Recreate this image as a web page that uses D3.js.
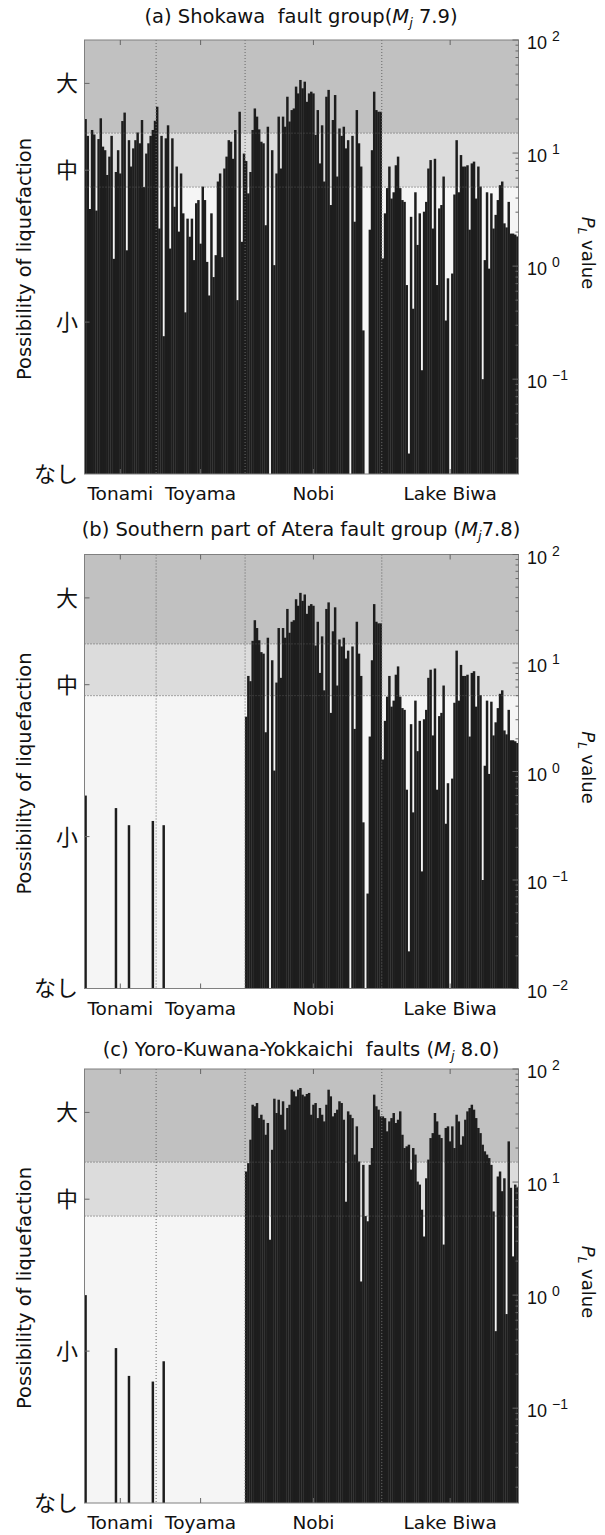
<!DOCTYPE html>
<html><head><meta charset="utf-8">
<script src="https://cdn.jsdelivr.net/npm/d3@7"></script>
<style>body{margin:0;background:#fff}svg{display:block}text{white-space:pre}</style>
</head><body>
<svg id="chart" width="605" height="1535"></svg>
<script>
// ---------- categories / labels ----------
const regions = ["Tonami", "Toyama", "Nobi", "Lake Biwa"];
const levelLabels = ["大", "中", "小", "なし"];
const levelPos = [0.90, 0.70, 0.35, 0];      // position of class labels on the left axis (fraction of height)
const classEdges = [5, 15];                   // PL thresholds between 小/中 and 中/大

// ---------- (a) Shokawa fault group ----------
const shokawaTonami = [20, 14.2, 3.2, 16.0, 14.6, 3.1, 13.3, 20.3, 11.4, 10.6, 6.4, 9.3, 14.2, 1.16, 6.8, 10.6, 6.6, 19.2, 22.8, 1.38, 13.0, 7.6, 11.0, 13.0, 15.2, 12.2, 19.6, 5.0, 9.9, 12.2, 14.2, 16.0, 19.3];
const shokawaToyama = [25.7, 2.15, 14.2, 0.24, 13.5, 17.6, 1.43, 13.5, 3.35, 7.6, 2.02, 6.6, 2.93, 0.39, 2.63, 1.82, 2.63, 1.13, 3.6, 3.84, 1.58, 5.05, 3.84, 1.09, 0.55, 2.93, 0.8, 1.25, 5.6, 6.6, 1.2, 7.3, 9.3, 13.0, 12.6, 8.9, 16.0, 0.5, 23.2, 1.64, 9.9];
const shokawaNobi = [8.5, 4.4, 6.8, 16.0, 24.8, 21.0, 16.2, 12.6, 12.2, 2.3, 17.1, 0, 10.6, 1.02, 6.6, 21.0, 7.3, 21.0, 17.1, 31.5, 19.0, 24.0, 24.8, 38.7, 33.7, 44.3, 37.4, 42.8, 28.4, 33.7, 34.9, 33.7, 14.5, 24.0, 8.1, 17.6, 5.6, 31.5, 36.2, 3.47, 19.6, 32.6, 6.2, 16.5, 14.2, 17.1, 11.0, 13.0, 0, 14.2, 2.47, 24.0, 12.2, 7.6, 0.27, 0, 0, 2.1, 10.6, 34.9, 24.0, 23.2, 23.2];
const shokawaBiwa = [1.17, 2.93, 4.9, 7.6, 3.96, 4.5, 7.8, 9.3, 4.9, 3.84, 3.7, 0.68, 0.022, 2.73, 0.42, 4.5, 1.54, 2.93, 0.12, 3.03, 3.7, 7.3, 8.67, 2.15, 8.9, 0.68, 3.24, 3.47, 6.2, 0.33, 0.78, 0, 0.86, 4.3, 13.0, 4.5, 9.6, 7.6, 7.6, 7.8, 2.1, 8.1, 8.4, 3.96, 7.6, 5.05, 0.10, 1.13, 4.5, 0.95, 4.4, 2.15, 2.84, 3.84, 5.2, 5.6, 2.39, 2.2, 3.7, 1.94, 1.94, 1.9, 1.83];

// ---------- (b) Southern part of Atera fault group ----------
const ateraTonami = [0.6, 0, 0, 0, 0, 0, 0, 0, 0, 0, 0, 0, 0, 0, 0.46, 0, 0, 0, 0, 0, 0.32, 0, 0, 0, 0, 0, 0, 0, 0, 0, 0, 0.35, 0];
const ateraToyama = [0, 0, 0, 0.32, 0, 0, 0, 0, 0, 0, 0, 0, 0, 0, 0, 0, 0, 0, 0, 0, 0, 0, 0, 0, 0, 0, 0, 0, 0, 0, 0, 0, 0, 0, 0, 0, 0, 0, 0, 0, 0];
const ateraNobi = [3.2, 7.6, 6.8, 16.0, 24.8, 21.0, 16.2, 12.6, 12.2, 2.3, 17.1, 0, 10.6, 1.02, 6.6, 21.0, 7.3, 21.0, 17.1, 31.5, 19.0, 24.0, 24.8, 38.7, 33.7, 44.3, 37.4, 42.8, 28.4, 33.7, 34.9, 33.7, 14.5, 24.0, 8.1, 17.6, 5.6, 31.5, 36.2, 3.47, 19.6, 32.6, 6.2, 16.5, 14.2, 17.1, 11.0, 13.0, 0, 14.2, 2.47, 24.0, 12.2, 7.6, 0.34, 0, 0.075, 2.1, 10.6, 34.9, 24.0, 23.2, 23.2];
const ateraBiwa = [1.29, 2.93, 4.9, 7.6, 3.96, 4.5, 7.8, 9.3, 4.9, 3.84, 3.7, 0.68, 0.022, 2.73, 0.42, 4.5, 1.54, 2.93, 0.12, 3.03, 3.7, 7.3, 8.67, 2.15, 8.9, 0.68, 3.24, 3.47, 6.2, 0.33, 0.78, 0, 0.86, 4.3, 13.0, 4.5, 9.6, 7.6, 7.6, 7.8, 2.1, 8.1, 8.4, 3.96, 7.6, 5.05, 0.10, 1.13, 4.5, 0.95, 4.4, 2.15, 2.84, 3.84, 5.2, 5.6, 2.39, 2.2, 3.7, 1.94, 1.94, 1.9, 1.83];

// ---------- (c) Yoro-Kuwana-Yokkaichi faults ----------
const yoroTonami = [1.0, 0, 0, 0, 0, 0, 0, 0, 0, 0, 0, 0, 0, 0, 0.34, 0, 0, 0, 0, 0, 0.193, 0, 0, 0, 0, 0, 0, 0, 0, 0, 0, 0.172, 0];
const yoroToyama = [0, 0, 0, 0.26, 0, 0, 0, 0, 0, 0, 0, 0, 0, 0, 0, 0, 0, 0, 0, 0, 0, 0, 0, 0, 0, 0, 0, 0, 0, 0, 0, 0, 0, 0, 0, 0, 0, 0, 0, 0, 0];
const yoroNobi = [12.4, 14.7, 23.7, 48.3, 46.8, 50, 36.8, 39.4, 35.6, 26.2, 33.3, 3.09, 19.3, 54.6, 40.8, 53.5, 39.4, 51.8, 29.1, 45.2, 48.3, 65.6, 63.4, 57.3, 65.6, 67.9, 59.3, 57.3, 60.1, 61.4, 39.4, 48.3, 50, 36.8, 45.2, 39.4, 34.4, 48.3, 65.6, 57.3, 38.1, 40.8, 43.7, 51.8, 50, 35.6, 6.7, 42.2, 39.4, 36.8, 17.5, 31.1, 15.2, 1.32, 14.2, 5.0, 4.5, 14.2, 20.0, 59.3, 46.8, 43.7, 38.1];
const yoroBiwa = [38.1, 36.8, 28.1, 34.4, 36.8, 40.8, 33.3, 35.6, 42.2, 26.2, 20, 20.7, 21.4, 12.9, 20, 17.5, 10.1, 9.5, 5.7, 3.3, 10.8, 15.8, 24.5, 27.1, 40.8, 34.4, 26.2, 24.5, 2.8, 30.1, 31.1, 22.9, 31.1, 20, 39.4, 34.4, 21.4, 25.4, 35.6, 42.2, 45.2, 48.3, 43.7, 36.8, 30.1, 27.1, 21.4, 18.7, 17.5, 16.3, 14.2, 5.5, 0.48, 11.2, 12.4, 8.3, 10.8, 0.68, 22.9, 8.9, 2.2, 9.5, 9.0];

// ---------- panels ----------
const panels = [
  {title: ["(a) Shokawa  fault group(", "M", "j", " 7.9)"], parts: [shokawaTonami, shokawaToyama, shokawaNobi, shokawaBiwa], yMin: 0.0145, minExp: -1, top: 40, titleY: 23},
  {title: ["(b) Southern part of Atera fault group (", "M", "j", "7.8)"], parts: [ateraTonami, ateraToyama, ateraNobi, ateraBiwa], yMin: 0.01, minExp: -2, top: 554.5, titleY: 536},
  {title: ["(c) Yoro-Kuwana-Yokkaichi  faults (", "M", "j", " 8.0)"], parts: [yoroTonami, yoroToyama, yoroNobi, yoroBiwa], yMin: 0.0145, minExp: -1, top: 1069, titleY: 1056}
];

const svg = d3.select("#chart");
const L = 84.5, R = 518.5, H = 434;
const JP = "'Noto Sans CJK JP', sans-serif";
const LAT = "'DejaVu Sans', 'Noto Sans', sans-serif";
const colHigh = "#c1c1c1", colMid = "#dcdcdc", colLow = "#f5f5f5", barCol = "#1d1d1d";

panels.forEach(p => {
  const counts = p.parts.map(a => a.length);
  const values = [].concat(...p.parts);
  const N = values.length;
  const top = p.top, bottom = top + H;
  const g = svg.append("g");

  const x = d3.scaleBand().domain(d3.range(N)).range([L, R]).padding(0);
  const y = d3.scaleLog().domain([p.yMin, 100]).range([bottom, top]).clamp(true);
  const yl = d3.scaleLinear().domain([0, 1]).range([bottom, top]);

  // class bands
  const bands = [[100, classEdges[1], colHigh], [classEdges[1], classEdges[0], colMid], [classEdges[0], p.yMin, colLow]];
  g.selectAll("rect.band").data(bands).join("rect").attr("class", "band")
    .attr("x", L).attr("width", R - L)
    .attr("y", d => y(d[0])).attr("height", d => y(d[1]) - y(d[0]))
    .attr("fill", d => d[2]);

  // bars
  g.selectAll("rect.bar").data(values.map((v, i) => ({v, i})).filter(d => d.v > 0)).join("rect")
    .attr("class", "bar")
    .attr("x", d => x(d.i) - 0.15).attr("width", x.bandwidth() + 0.3)
    .attr("y", d => y(d.v)).attr("height", d => bottom - y(d.v))
    .attr("fill", barCol);

  // dotted grid: class thresholds and region boundaries
  const cum = d3.cumsum(counts);
  g.selectAll("line.hgrid").data(classEdges).join("line")
    .attr("x1", L).attr("x2", R).attr("y1", d => y(d)).attr("y2", d => y(d))
    .attr("stroke", "#555").attr("stroke-width", 1).attr("stroke-dasharray", "1,2");
  g.selectAll("line.vgrid").data(cum.slice(0, 3)).join("line")
    .attr("x1", d => x(d)).attr("x2", d => x(d)).attr("y1", top).attr("y2", bottom)
    .attr("stroke", "#666").attr("stroke-width", 1).attr("stroke-dasharray", "1,2");

  // frame
  g.append("rect").attr("x", L).attr("y", top).attr("width", R - L).attr("height", H)
    .attr("fill", "none").attr("stroke", "#808080").attr("stroke-width", 1);

  // x ticks (region centres) top & bottom, inward
  const centers = counts.map((c, k) => x(cum[k] - c) + c * x.bandwidth() / 2);
  centers.forEach(cx => {
    g.append("line").attr("x1", cx).attr("x2", cx).attr("y1", top).attr("y2", top + 5).attr("stroke", "#666");
    g.append("line").attr("x1", cx).attr("x2", cx).attr("y1", bottom).attr("y2", bottom - 5).attr("stroke", "#666");
  });
  g.selectAll("text.xl").data(regions).join("text")
    .attr("x", (d, k) => centers[k]).attr("y", bottom + 26)
    .attr("text-anchor", "middle").attr("font-family", LAT).attr("font-size", 18.5).attr("fill", "#111")
    .text(d => d);

  // left axis (liquefaction class)
  levelPos.forEach((pos, k) => {
    if (pos > 0) g.append("line").attr("x1", L).attr("x2", L + 5).attr("y1", yl(pos)).attr("y2", yl(pos)).attr("stroke", "#666");
    g.append("text").attr("x", 78).attr("y", yl(pos)).attr("dy", "0.36em")
      .attr("text-anchor", "end").attr("font-family", JP).attr("font-size", 22).attr("fill", "#111")
      .text(levelLabels[k]);
  });
  g.append("text").attr("transform", `translate(24,${(top + bottom) / 2 + 2}) rotate(-90)`)
    .attr("text-anchor", "middle").attr("dy", "0.35em").attr("font-family", LAT).attr("font-size", 19.5).attr("fill", "#111")
    .text("Possibility of liquefaction");

  // right axis (log PL)
  const lt = y.ticks();
  lt.forEach(t => {
    const e = Math.log10(t);
    const major = Math.abs(e - Math.round(e)) < 1e-9;
    g.append("line").attr("x1", R).attr("x2", R - (major ? 6 : 3)).attr("y1", y(t)).attr("y2", y(t)).attr("stroke", "#666");
  });
  d3.range(p.minExp, 3).forEach(e => {
    const ty = y(Math.pow(10, e));
    const t = g.append("text").attr("x", 527).attr("y", ty + 9)
      .attr("font-family", "'Liberation Sans', Arial, sans-serif").attr("font-size", 18).attr("fill", "#111");
    t.append("tspan").text("10");
    t.append("tspan").attr("dx", 5).attr("dy", -8).attr("font-size", 14).text(e < 0 ? "\u2212" + (-e) : String(e));
  });
  const rl = g.append("text").attr("transform", `translate(588,${(top + bottom) / 2 - 4}) rotate(90)`)
    .attr("text-anchor", "middle").attr("dy", "0.35em").attr("font-family", LAT).attr("font-size", 18).attr("fill", "#111");
  rl.append("tspan").attr("font-style", "italic").text("P");
  rl.append("tspan").attr("font-style", "italic").attr("font-size", 12).attr("dy", 4).text("L");
  rl.append("tspan").attr("dy", -4).text(" value");

  // title
  const tt = g.append("text").attr("x", 301).attr("y", p.titleY).attr("text-anchor", "middle")
    .attr("font-family", LAT).attr("font-size", 19.5).attr("fill", "#111");
  tt.append("tspan").text(p.title[0]);
  tt.append("tspan").attr("font-style", "italic").text(p.title[1]);
  tt.append("tspan").attr("font-style", "italic").attr("font-size", 13).attr("dy", 4).text(p.title[2]);
  tt.append("tspan").attr("dy", -4).text(p.title[3]);
});
</script>
</body></html>
